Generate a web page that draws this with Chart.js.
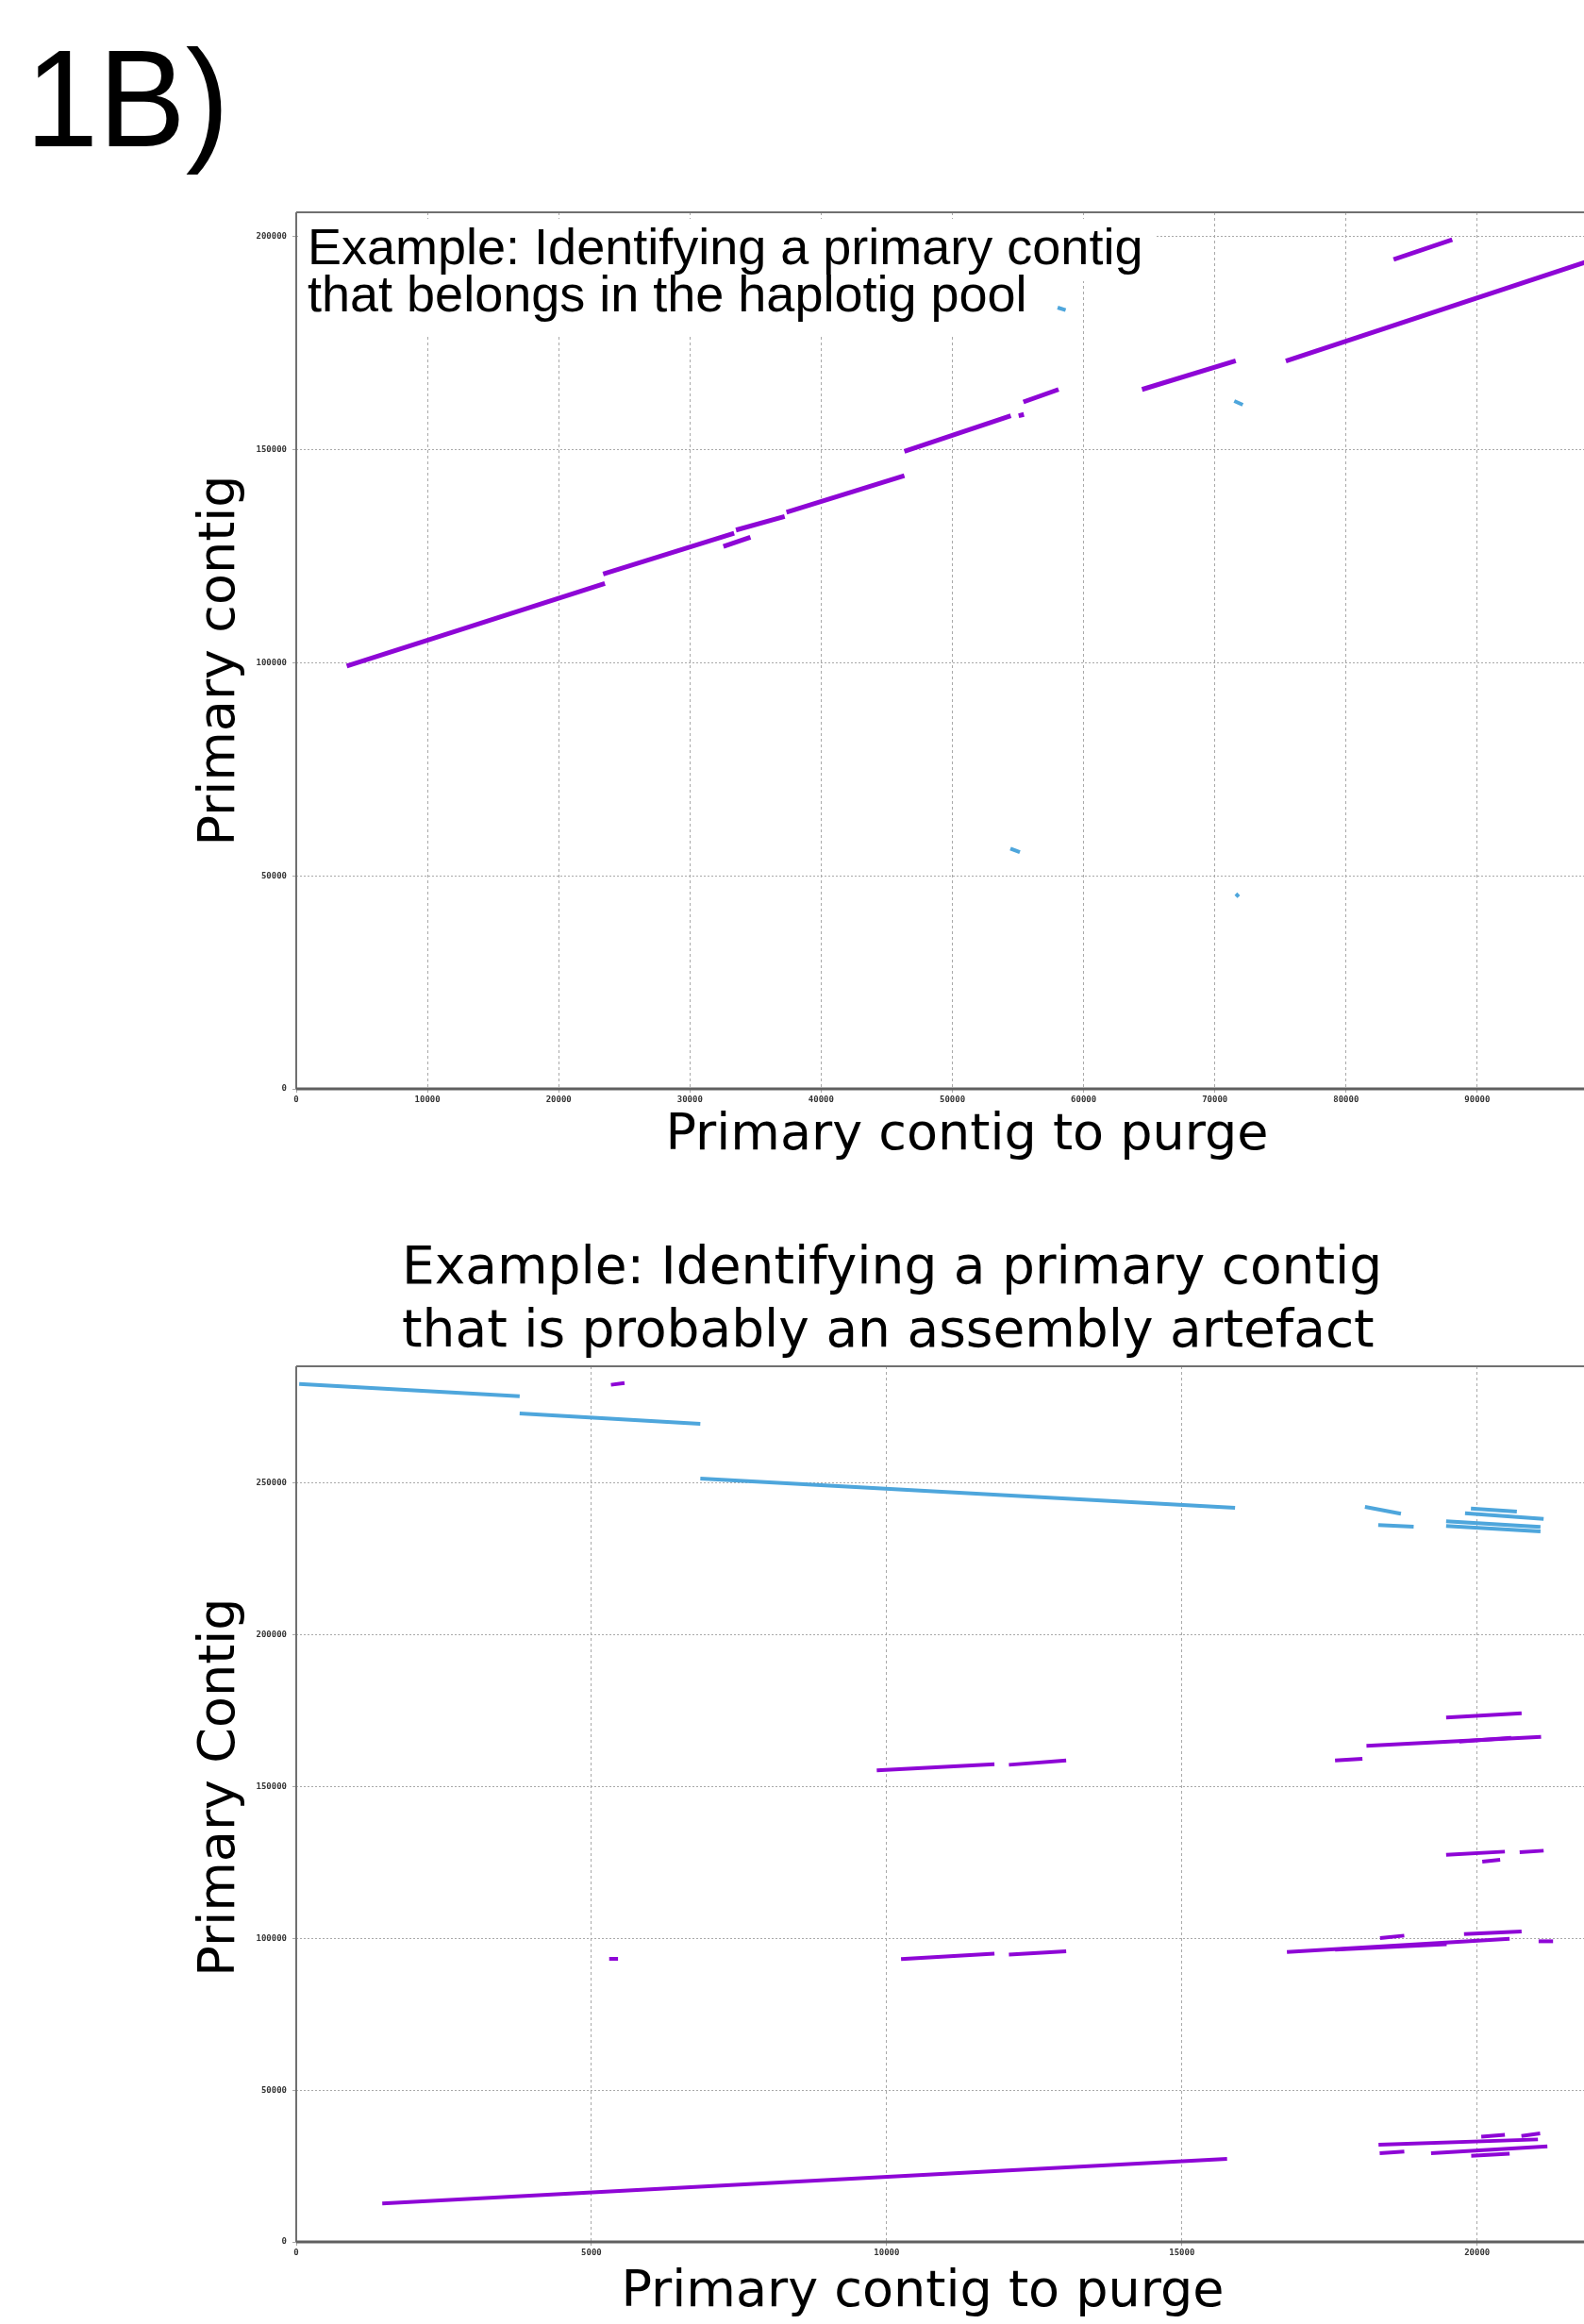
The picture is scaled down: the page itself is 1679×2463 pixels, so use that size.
<!DOCTYPE html>
<html>
<head>
<meta charset="utf-8">
<script src="https://cdn.jsdelivr.net/npm/chart.js@4.4.0/dist/chart.umd.min.js"></script>
<style>
html, body { margin: 0; padding: 0; background: #fff; }
body { width: 1679px; height: 2463px; position: relative; overflow: hidden; }
canvas { position: absolute; left: 0; }
#grafico-arriba { top: 0; }
#grafico-abajo { top: 1250px; }
</style>
</head>
<body>
<canvas id="grafico-arriba" width="1679" height="1250"></canvas>
<canvas id="grafico-abajo" width="1679" height="1213"></canvas>
<script>
// GRAFICO 1 - contig primario que pertenece al pool de haplotigs
// cada segmento: [x1, y1, x2, y2]
var topXTicks = [0, 10000, 20000, 30000, 40000, 50000, 60000, 70000, 80000, 90000];
var topYTicks = [0, 50000, 100000, 150000, 200000];

var topPurple = [
    [3850, 99230, 23520, 118590],
    [23385, 120800, 33370, 130400],
    [33510, 131130, 37220, 134310],
    [37360, 135340, 46340, 143900],
    [32550, 127300, 34610, 129440],
    [46340, 149600, 54450, 157930],
    [55050, 157950, 55450, 158250],
    [55410, 161190, 58090, 164130],
    [64450, 164130, 71590, 170860],
    [75410, 170780, 100000, 195800],
    [83620, 194630, 88090, 199280]
];

var topBlue = [
    [58020, 183330, 58630, 182740],
    [71480, 161410, 72130, 160520],
    [54420, 56400, 55140, 55530],
    [71600, 45780, 71820, 45100]
];

// GRAFICO 2 - contig primario que probablemente es un artefacto
var bottomXTicks = [0, 5000, 10000, 15000, 20000];
var bottomYTicks = [0, 50000, 100000, 150000, 200000, 250000];

var bottomBlue = [
    [50, 282700, 3784, 278660],
    [3784, 272970, 6844, 269550],
    [6844, 251530, 15900, 241890],
    [18100, 242190, 18710, 239900],
    [18325, 236160, 18925, 235650],
    [19895, 241660, 20673, 240630],
    [19795, 240110, 21126, 238240],
    [19475, 237400, 21073, 235540],
    [19475, 235850, 21073, 234100]
];

var bottomPurple = [
    [1457, 12690, 15765, 27330],
    [5330, 282400, 5560, 283000],
    [5300, 93270, 5450, 93270],
    [9832, 155330, 11825, 157410],
    [12070, 157190, 13040, 158650],
    [10243, 93150, 11825, 95010],
    [12070, 94700, 13040, 95760],
    [19475, 172740, 20753, 174200],
    [18126, 163420, 21083, 166430],
    [19698, 164880, 20577, 166110],
    [17594, 158650, 18057, 159180],
    [19475, 127560, 20470, 128590],
    [20087, 125290, 20390, 125900],
    [20721, 128400, 21126, 128900],
    [18356, 100110, 18766, 100920],
    [19778, 101450, 20753, 102280],
    [16779, 95540, 20550, 99890],
    [17594, 96260, 19484, 98120],
    [21041, 99050, 21286, 99050],
    [18330, 32020, 21030, 33770],
    [18350, 29220, 18766, 29730],
    [19220, 29220, 21190, 31490],
    [19900, 28390, 20550, 29100],
    [20070, 34700, 20470, 35320],
    [20750, 34910, 21067, 35750]
];

var MORADO = '#8e06d6';
var CELESTE = '#4ea6dc';

Chart.defaults.font.family = '"DejaVu Sans", sans-serif';

// Un dataset por segmento
function segmentos(lista, color, ancho) {
    return lista.map(function (s) {
        return {
            data: [{ x: s[0], y: s[1] }, { x: s[2], y: s[3] }],
            borderColor: color,
            backgroundColor: color,
            borderWidth: ancho,
            pointRadius: 0,
            showLine: true
        };
    });
}

// Escalas con ticks fijos
function ejes(xTicks, yTicks, xMax, yMax) {
    var fuenteTick = { family: '"DejaVu Sans Mono", monospace', size: 9, weight: 'bold' };
    return {
        x: {
            type: 'linear', min: 0, max: xMax,
            afterBuildTicks: function (s) { s.ticks = xTicks.map(function (v) { return { value: v }; }); },
            afterFit: function (s) { s.height = 30; },
            ticks: { font: fuenteTick, color: '#333', padding: 2, maxRotation: 0, autoSkip: false,
                callback: function (v) { return String(v); } },
            grid: { color: '#a9a9a9', lineWidth: 1, tickLength: 4 },
            border: { display: false, dash: [3, 3] }
        },
        y: {
            type: 'linear', min: 0, max: yMax,
            afterBuildTicks: function (s) { s.ticks = yTicks.map(function (v) { return { value: v }; }); },
            afterFit: function (s) { s.width = 80; },
            ticks: { font: fuenteTick, color: '#333', padding: 6, autoSkip: false,
                callback: function (v) { return String(v); } },
            grid: { color: '#a9a9a9', lineWidth: 1, tickLength: 4 },
            border: { display: false, dash: [2, 2] }
        }
    };
}

// Plugin: fondos blancos, bordes del area y textos
var textosPlugin = {
    id: 'textos',
    beforeDatasetsDraw: function (chart, args, opts) {
        var ctx = chart.ctx;
        ctx.save();
        ctx.fillStyle = '#fff';
        (opts.fondos || []).forEach(function (r) { ctx.fillRect(r[0], r[1], r[2], r[3]); });
        ctx.restore();
    },
    afterDraw: function (chart, args, opts) {
        var ctx = chart.ctx, a = chart.chartArea;
        ctx.save();
        ctx.setLineDash([]);
        ctx.strokeStyle = '#707070';
        ctx.lineWidth = 2;
        ctx.beginPath();
        ctx.moveTo(a.left, a.top); ctx.lineTo(a.right, a.top);
        ctx.moveTo(a.left, a.top); ctx.lineTo(a.left, a.bottom);
        ctx.stroke();
        ctx.strokeStyle = '#606060';
        ctx.lineWidth = 3;
        ctx.beginPath();
        ctx.moveTo(a.left, a.bottom); ctx.lineTo(a.right, a.bottom);
        ctx.stroke();
        (opts.textos || []).forEach(function (t) {
            ctx.save();
            ctx.translate(t.x, t.y);
            if (t.rot) ctx.rotate(t.rot);
            if (t.sx) ctx.scale(t.sx, 1);
            ctx.font = t.font;
            ctx.fillStyle = '#000';
            ctx.textAlign = t.align || 'left';
            ctx.textBaseline = 'alphabetic';
            ctx.fillText(t.text, 0, 0);
            ctx.restore();
        });
        ctx.restore();
    }
};

var fuenteEje = '54px "DejaVu Sans"';
var fuenteTitulo = '55px "DejaVu Sans"';
var fuenteArial = '54px "Liberation Sans"';

// Crear grafico 1
var top_ctx = document.getElementById('grafico-arriba').getContext('2d');
var top_chart = new Chart(top_ctx, {
    type: 'scatter',
    data: { datasets: segmentos(topPurple, MORADO, 5).concat(segmentos(topBlue, CELESTE, 4)) },
    options: {
        responsive: false,
        animation: false,
        events: [],
        layout: { padding: { left: 234, top: 225, right: 0, bottom: 66 } },
        scales: ejes(topXTicks, topYTicks, 98130, 205700),
        plugins: {
            legend: { display: false },
            tooltip: { enabled: false },
            textos: {
                fondos: [[316, 232, 909, 66], [316, 298, 784, 56]],
                textos: [
                    { text: '1B)', x: 27, y: 155, font: '146px "Liberation Sans"', sx: 0.95 },
                    { text: 'Example: Identifying a primary contig', x: 326, y: 280, font: fuenteArial },
                    { text: 'that belongs in the haplotig pool', x: 326, y: 330, font: fuenteArial },
                    { text: 'Primary contig to purge', x: 1025, y: 1218, font: fuenteEje, align: 'center' },
                    { text: 'Primary contig', x: 248, y: 700, font: fuenteEje, align: 'center', rot: -Math.PI / 2 }
                ]
            }
        }
    },
    plugins: [textosPlugin]
});

// Crear grafico 2
var bottom_ctx = document.getElementById('grafico-abajo').getContext('2d');
var bottom_chart = new Chart(bottom_ctx, {
    type: 'scatter',
    data: { datasets: segmentos(bottomBlue, CELESTE, 4).concat(segmentos(bottomPurple, MORADO, 4)) },
    options: {
        responsive: false,
        animation: false,
        events: [],
        layout: { padding: { left: 234, top: 198, right: 0, bottom: 57 } },
        scales: ejes(bottomXTicks, bottomYTicks, 21810, 288500),
        plugins: {
            legend: { display: false },
            tooltip: { enabled: false },
            textos: {
                textos: [
                    { text: 'Example: Identifying a primary contig', x: 426, y: 110, font: fuenteTitulo },
                    { text: 'that is probably an assembly artefact', x: 426, y: 177, font: fuenteTitulo },
                    { text: 'Primary contig to purge', x: 978, y: 1194, font: fuenteEje, align: 'center' },
                    { text: 'Primary Contig', x: 248, y: 644, font: fuenteEje, align: 'center', rot: -Math.PI / 2 }
                ]
            }
        }
    },
    plugins: [textosPlugin]
});
</script>
</body>
</html>
